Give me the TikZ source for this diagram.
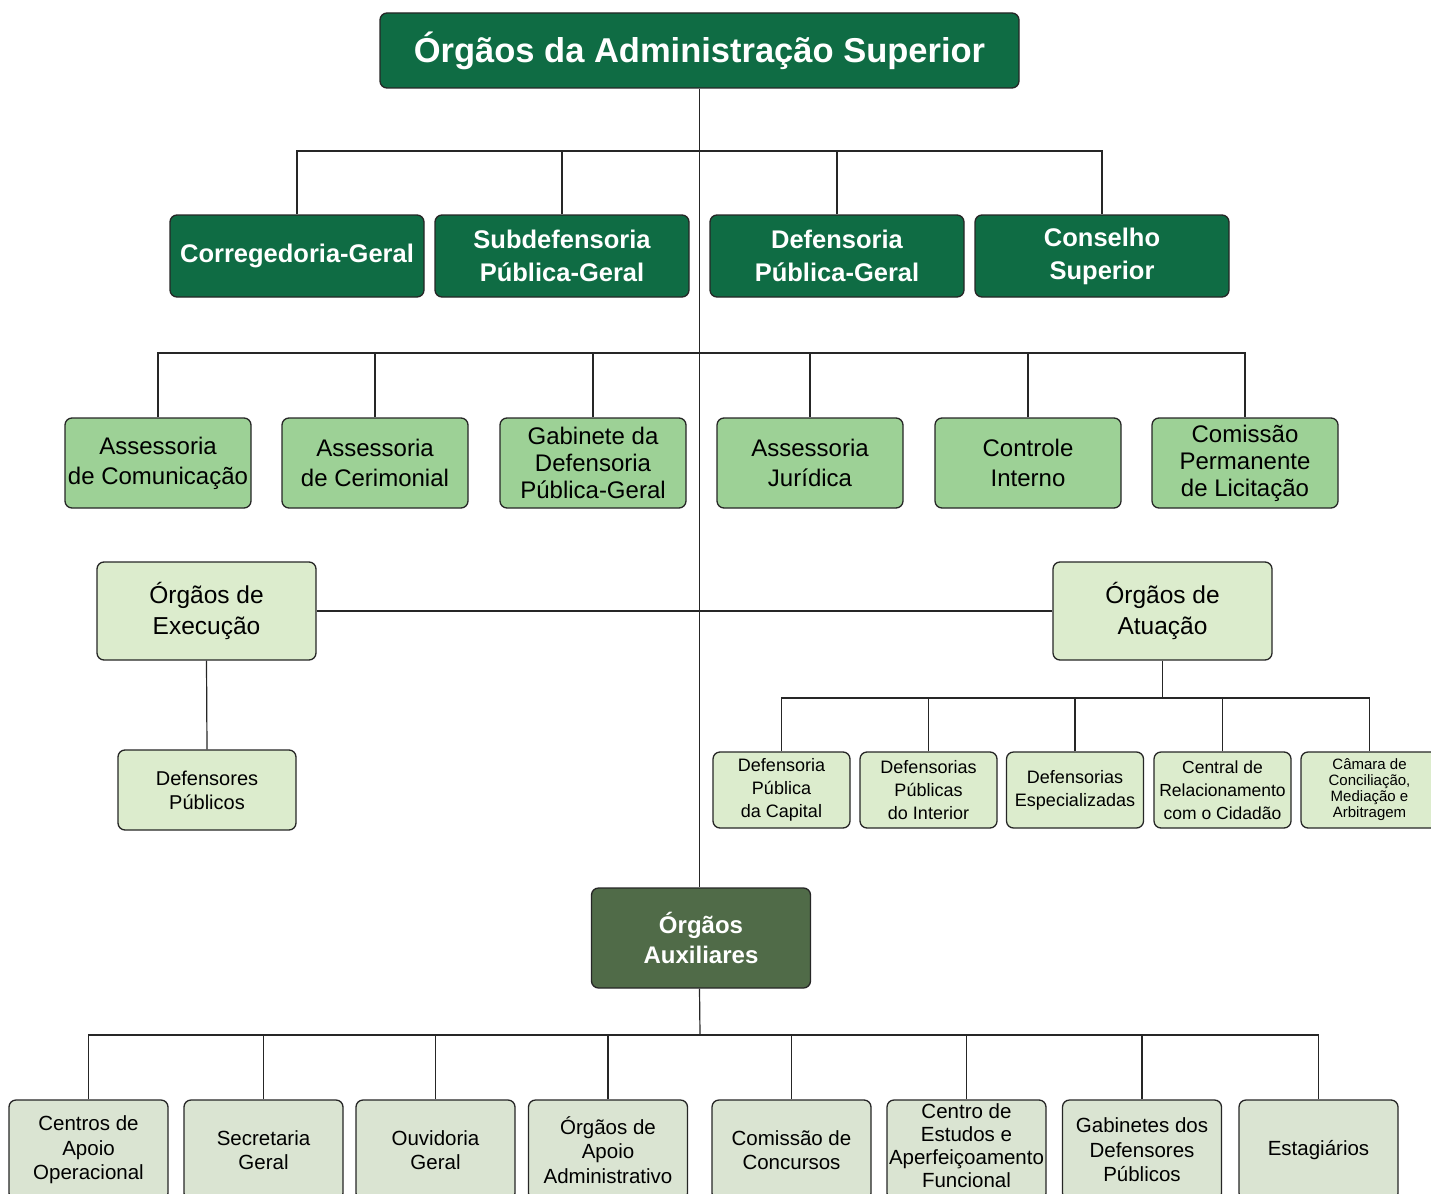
\documentclass[tikz,border=0pt]{standalone}
\usepackage{fontspec}
\setmainfont{Liberation Sans}
\usetikzlibrary{positioning}

\definecolor{topgreen}{HTML}{0F6C44}
\definecolor{auxgreen}{HTML}{506B48}
\definecolor{midgreen}{HTML}{9DD196}
\definecolor{palegreen}{HTML}{DCECCD}
\definecolor{greygreen}{HTML}{DAE4D2}

\begin{document}
\begin{tikzpicture}
    [
      x=1pt, y=-1pt,
      box/.style={draw=black!85, line width=1.3pt, rounded corners=7pt, align=center, inner sep=0pt},
      top/.style={box, fill=topgreen, text=white, font=\bfseries\fontsize{25.5}{33}\selectfont, minimum width=254pt, minimum height=82pt},
      assess/.style={box, fill=midgreen, font=\fontsize{24}{30}\selectfont, minimum width=186pt, minimum height=90pt},
      branch/.style={box, fill=palegreen, font=\fontsize{24.5}{31}\selectfont, minimum width=219pt, minimum height=98pt},
      unit/.style={box, fill=palegreen, font=\fontsize{18}{23}\selectfont, minimum width=137pt, minimum height=76pt},
      aux-unit/.style={box, fill=greygreen, font=\fontsize{20.5}{24.5}\selectfont, minimum width=159pt, minimum height=100pt},
      link/.style={draw=black!85, line width=1.2pt},
    ]

    \useasboundingbox (0,0) rectangle (1431,1193);

    % administracao superior
    \node (adm-sup) [box, fill=topgreen, text=white, font=\bfseries\fontsize{34.5}{40}\selectfont, minimum width=639pt, minimum height=75pt] at (699.5,50.5) {Órgãos da Administração Superior};

    \node (corr-geral) [top] at (297,256) {Corregedoria-Geral};
    \node (subdef) [top] at (562,256) {Subdefensoria\\Pública-Geral};
    \node (def-geral) [top] at (837,256) {Defensoria\\Pública-Geral};
    \node (cons-sup) [top] at (1102,256) {Conselho\\Superior\\[-29pt]\mbox{}};

    % assessorias
    \node (ass-com) [assess] at (158,463) {Assessoria\\de Comunicação};
    \node (ass-cer) [assess] at (375,463) {Assessoria\\de Cerimonial};
    \node (gab-def) [assess, font=\fontsize{24}{27}\selectfont] at (593,463) {Gabinete da\\Defensoria\\Pública-Geral};
    \node (ass-jur) [assess] at (810,463) {Assessoria\\Jurídica};
    \node (ctrl-int) [assess] at (1028,463) {Controle\\Interno};
    \node (com-lic) [assess, font=\fontsize{24}{27}\selectfont] at (1245,463) {Comissão\\Permanente\\de Licitação};

    % execucao e atuacao
    \node (exec) [branch] at (206.5,611) {Órgãos de\\Execução};
    \node (atua) [branch] at (1162.5,611) {Órgãos de\\Atuação};

    \node (def-pub) [box, fill=palegreen, font=\fontsize{20}{24}\selectfont, minimum width=178pt, minimum height=80pt] at (207,790) {Defensores\\Públicos};

    \node (dp-cap) [unit] at (781.5,790) {Defensoria\\Pública\\da Capital};
    \node (dp-int) [unit] at (928.5,790) {Defensorias\\Públicas\\do Interior};
    \node (dp-esp) [unit] at (1075,790) {Defensorias\\Especializadas};
    \node (central) [unit, font=\fontsize{17.5}{23}\selectfont] at (1222.5,790) {Central de\\Relacionamento\\com o Cidadão};
    \node (camara) [unit, font=\fontsize{15}{16}\selectfont] at (1369.5,790) {Câmara de\\Conciliação,\\Mediação e\\Arbitragem};

    % orgaos auxiliares
    \node (aux) [box, fill=auxgreen, text=white, font=\bfseries\fontsize{24}{30}\selectfont, minimum width=219pt, minimum height=100pt] at (701,938) {Órgãos\\Auxiliares};

    \node (apoio-op) [aux-unit] at (88.5,1150) {Centros de\\Apoio\\Operacional};
    \node (secr) [aux-unit] at (263.5,1150) {Secretaria\\Geral};
    \node (ouv) [aux-unit] at (435.5,1150) {Ouvidoria\\Geral};
    \node (apoio-adm) [aux-unit] at (608,1150) {Órgãos de\\Apoio\\Administrativo};
    \node (concursos) [aux-unit] at (791.5,1150) {Comissão de\\Concursos};
    \node (estudos) [aux-unit, font=\fontsize{20.5}{23}\selectfont] at (966.5,1150) {Centro de\\Estudos e\\Aperfeiçoamento\\Funcional\\[-15pt]\mbox{}};
    \node (gab-dp) [aux-unit] at (1142,1150) {Gabinetes dos\\Defensores\\Públicos};
    \node (estag) [aux-unit] at (1318.5,1150) {Estagiários};

    \coordinate (bus-top) at (700,151);
    \coordinate (bus-ass) at (700,353);
    \coordinate (bus-atua) at (1162.5,698);
    \coordinate (bus-aux) at (700,1035);

    % trunk
    \path (adm-sup.south) edge [link] (aux.north -| adm-sup.south)
    (aux.south -| adm-sup.south) edge [link] (bus-aux);

    \draw [link] (corr-geral.north) |- (bus-top) -| (cons-sup.north);
    \path
    (subdef.north) edge [link] (subdef.north |- bus-top)
    (def-geral.north) edge [link] (def-geral.north |- bus-top);

    \draw [link] (ass-com.north) |- (bus-ass) -| (com-lic.north);
    \path
    (ass-cer.north) edge [link] (ass-cer.north |- bus-ass)
    (gab-def.north) edge [link] (gab-def.north |- bus-ass)
    (ass-jur.north) edge [link] (ass-jur.north |- bus-ass)
    (ctrl-int.north) edge [link] (ctrl-int.north |- bus-ass);

    \path
    (exec.east) edge [link] (atua.west)
    (exec.south) edge [link] (def-pub.north)
    (atua.south) edge [link] (bus-atua);

    \draw [link] (dp-cap.north) |- (bus-atua) -| (camara.north);
    \path
    (dp-int.north) edge [link] (dp-int.north |- bus-atua)
    (dp-esp.north) edge [link] (dp-esp.north |- bus-atua)
    (central.north) edge [link] (central.north |- bus-atua);

    \draw [link] (apoio-op.north) |- (bus-aux) -| (estag.north);
    \path
    (secr.north) edge [link] (secr.north |- bus-aux)
    (ouv.north) edge [link] (ouv.north |- bus-aux)
    (apoio-adm.north) edge [link] (apoio-adm.north |- bus-aux)
    (concursos.north) edge [link] (concursos.north |- bus-aux)
    (estudos.north) edge [link] (estudos.north |- bus-aux)
    (gab-dp.north) edge [link] (gab-dp.north |- bus-aux);

\end{tikzpicture}
\end{document}
